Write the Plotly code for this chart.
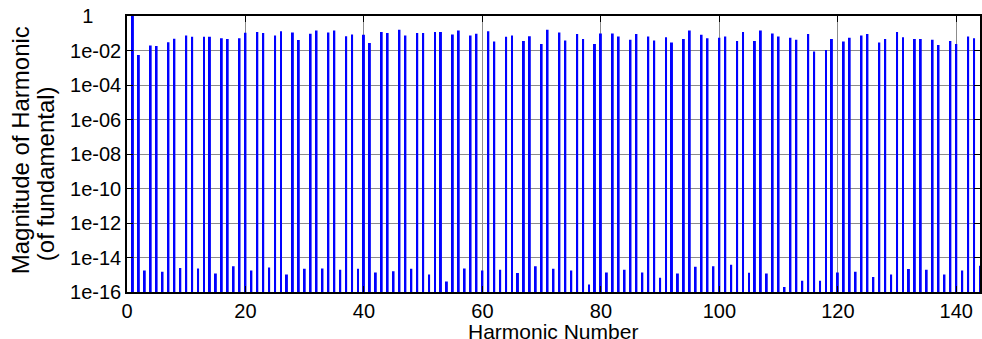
import plotly.graph_objects as go

# Harmonic numbers 1..144
harmonic = list(range(1, 145))

# Magnitude of each harmonic relative to the fundamental
magnitude = [
    1.0,    5.5e-3, 1.78e-15, 1.95e-2, 1.8e-2,  1.48e-15,   # 1-6
    3.0e-2, 4.8e-2, 2.45e-15, 7.4e-2,  6.2e-2,  2.29e-15,   # 7-12
    6.2e-2, 6.2e-2, 1.2e-15,  5.2e-2,  4.6e-2,  3.16e-15,   # 13-18
    5.2e-2, 0.107,  1.78e-15, 0.12,    0.102,   2.63e-15,   # 19-24
    7.4e-2, 0.132,  1.05e-15, 0.112,   4.0e-2,  2.24e-15,   # 25-30
    9.3e-2, 0.145,  2.29e-15, 0.112,   0.145,   1.95e-15,   # 31-36
    6.8e-2, 8.5e-2, 2.24e-15, 8.1e-2,  2.75e-2, 1.35e-15,   # 37-42
    0.12,   0.102,  1.62e-15, 0.158,   7.4e-2,  2.24e-15,   # 43-48
    0.102,  0.102,  1.05e-15, 0.12,    0.12,    4.1e-16,    # 49-54
    8.5e-2, 0.145,  2.29e-15, 7.4e-2,  9.3e-2,  1.78e-15,   # 55-60
    0.132,  3.3e-2, 1.95e-15, 6.2e-2,  7.4e-2,  1.26e-15,   # 61-66
    3.5e-2, 6.8e-2, 3.16e-15, 2.4e-2,  0.158,   2.24e-15,   # 67-72
    0.112,  3.8e-2, 1.78e-15, 8.9e-2,  4.6e-2,  2.75e-16,   # 73-78
    2.4e-2, 9.8e-2, 1.35e-15, 9.8e-2,  6.5e-2,  1.95e-15,   # 79-84
    4.2e-2, 8.9e-2, 1.35e-15, 6.5e-2,  3.8e-2,  6.8e-16,    # 85-90
    5.9e-2, 2.9e-2, 1.2e-15,  4.6e-2,  0.145,   2.9e-15,    # 91-96
    8.1e-2, 5.2e-2, 3.16e-15, 5.5e-2,  6.5e-2,  3.8e-15,    # 97-102
    3.5e-2, 0.117,  1.32e-15, 3.5e-2,  0.145,   1.2e-15,    # 103-108
    9.8e-2, 6.5e-2, 1.95e-16, 5.5e-2,  4.2e-2,  4.5e-16,    # 109-114
    8.9e-2, 8.7e-3, 4.5e-16,  1.07e-2, 4.6e-2,  1.35e-15,   # 115-120
    3.3e-2, 5.5e-2, 1.48e-15, 7.4e-2,  8.9e-2,  7.4e-16,    # 121-126
    2.9e-2, 4.6e-2, 1.05e-15, 0.117,   5.9e-2,  2.14e-15,   # 127-132
    4.6e-2, 4.6e-2, 1.95e-15, 4.2e-2,  2.1e-2,  1.05e-15,   # 133-138
    3.5e-2, 2.4e-2, 1.78e-15, 6.5e-2,  5.2e-2,  3.3e-15,    # 139-144
]

x_tickvals = [0, 20, 40, 60, 80, 100, 120, 140]
y_tickvals = [1e-16, 1e-14, 1e-12, 1e-10, 1e-8, 1e-6, 1e-4, 1e-2, 1]
y_ticktext = ["1e-16", "1e-14", "1e-12", "1e-10", "1e-08", "1e-06", "1e-04", "1e-02",
              "1\u00a0\u00a0\u00a0\u00a0\u00a0"]

FONT = "Liberation Sans, Arial, sans-serif"

fig = go.Figure()
fig.add_trace(go.Bar(
    x=harmonic, y=magnitude, width=0.33,
    marker=dict(color="#0000ff", line=dict(width=0)),
))

axis_common = dict(
    showline=True, linecolor="black", linewidth=1.5, mirror="allticks",
    ticks="inside", ticklen=6, tickwidth=1, tickcolor="black",
    showgrid=True, gridcolor="#8c8c8c", gridwidth=1, zeroline=False,
    tickfont=dict(family=FONT, size=20, color="black"),
)

fig.update_xaxes(range=[0, 144], tickvals=x_tickvals, **axis_common)
fig.update_yaxes(type="log", range=[-16, 0], tickvals=y_tickvals, ticktext=y_ticktext,
                 **axis_common)

L, T, B, W, H = 127, 16, 47, 982, 339
ph = H - T - B
pw = W - L

def px_to_paper_x(px):
    return (px - L) / pw

def px_to_paper_y(py):
    return (H - B - py) / ph

fig.add_annotation(text="Magnitude of Harmonic", textangle=-90, showarrow=False,
                   xref="paper", yref="paper", x=px_to_paper_x(20), y=px_to_paper_y(150),
                   xanchor="center", yanchor="middle",
                   font=dict(family=FONT, size=24, color="black"))
fig.add_annotation(text="(of fundamental)", textangle=-90, showarrow=False,
                   xref="paper", yref="paper", x=px_to_paper_x(45), y=px_to_paper_y(174),
                   xanchor="center", yanchor="middle",
                   font=dict(family=FONT, size=24, color="black"))
fig.add_annotation(text="Harmonic Number", showarrow=False,
                   xref="paper", yref="paper", x=px_to_paper_x(554), y=px_to_paper_y(331),
                   xanchor="center", yanchor="middle",
                   font=dict(family=FONT, size=21, color="black"))

fig.update_layout(
    width=W, height=H, autosize=False,
    margin=dict(l=L, r=0, t=T, b=B, pad=0),
    paper_bgcolor="white", plot_bgcolor="white",
    showlegend=False,
)

fig.write_html("out.html")
